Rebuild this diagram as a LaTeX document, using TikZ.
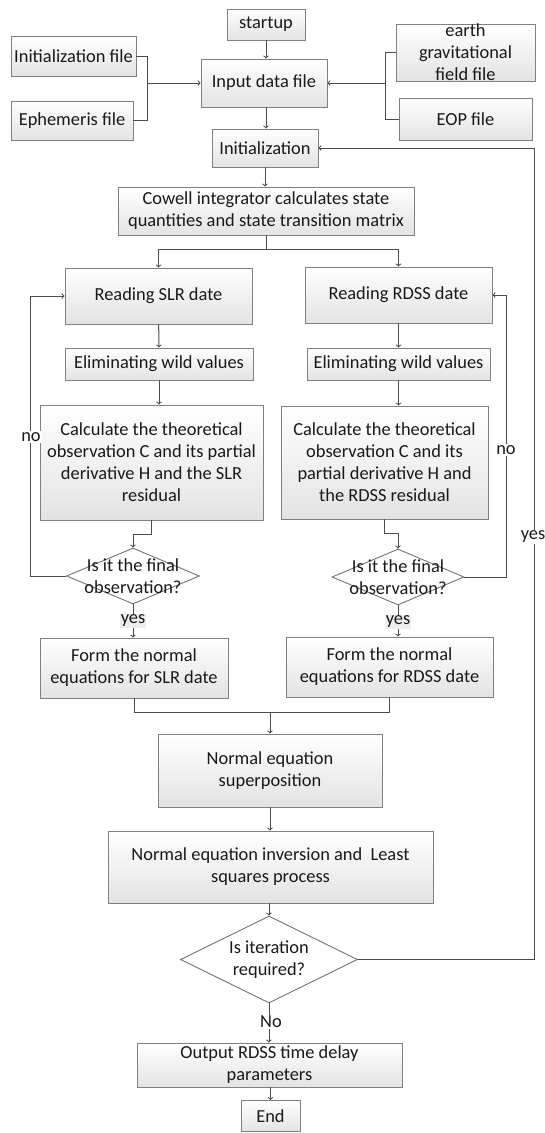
\documentclass[tikz,border=0pt]{standalone}
\usepackage{fontspec}
\setmainfont{Carlito}
\usetikzlibrary{shapes.geometric}

\begin{document}
\begin{tikzpicture}[x=1pt,y=-1pt,>=to,
                    every node/.style={font=\fontsize{18.4}{22}\selectfont,text=black!90,align=center},
                    box/.style={draw=black!50,line width=0.9pt,top color=white,bottom color=black!11,inner sep=0pt},
                    dec/.style={diamond,draw=black!55,line width=0.9pt,fill=white,inner sep=0pt},
                    conn/.style={draw=black!70,line width=1pt},
                    tag/.style={fill=white,inner sep=1pt}]
  \useasboundingbox (0,0) rectangle (545,1133);
  % input stage
  \node[box,minimum width=78pt,minimum height=31pt]  (start) at (266,24.5) {startup};
  \node[box,minimum width=125pt,minimum height=40pt] (initf) at (73.5,56) {Initialization file};
  \node[box,minimum width=122pt,minimum height=39pt] (ephf)  at (72,120.5) {Ephemeris file};
  \node[box,minimum width=126pt,minimum height=48pt] (input) at (264,83) {Input data file};
  \node[box,minimum width=139pt,minimum height=57pt] (earth) at (465.5,52.5) {earth\\gravitational\\field file};
  \node[box,minimum width=133pt,minimum height=42pt] (eop)   at (465.5,119) {EOP file};
  \node[box,minimum width=106pt,minimum height=38pt] (init)  at (265,148) {Initialization};
  \node[box,minimum width=296pt,minimum height=48pt] (cowell) at (266,211) {Cowell integrator calculates state\\quantities and state transition matrix};
  % SLR branch
  \node[box,minimum width=187pt,minimum height=56pt]  (readL) at (158.5,296) {Reading SLR date};
  \node[box,minimum width=188pt,minimum height=32pt]  (elimL) at (159,364) {Eliminating wild values};
  \node[box,minimum width=223pt,minimum height=115pt] (calcL) at (151.5,462.5) {Calculate the theoretical\\observation C and its partial\\derivative H and the SLR\\residual};
  \node[dec,minimum width=133pt,minimum height=56pt,label={center:{Is it the final\\observation?}}] (chkL) at (133,576) {};
  \node[box,minimum width=188pt,minimum height=60pt]  (formL) at (134,668) {Form the normal\\equations for SLR date};
  % RDSS branch
  \node[box,minimum width=187pt,minimum height=56pt]  (readR) at (398.5,295) {Reading RDSS date};
  \node[box,minimum width=183pt,minimum height=32pt]  (elimR) at (398.5,364) {Eliminating wild values};
  \node[box,minimum width=207pt,minimum height=113pt] (calcR) at (384.5,462.5) {Calculate the theoretical\\observation C and its\\partial derivative H and\\the RDSS residual};
  \node[dec,minimum width=132pt,minimum height=56pt,label={center:{Is it the final\\observation?}}] (chkR) at (398,577) {};
  \node[box,minimum width=207pt,minimum height=60pt]  (formR) at (389.5,667) {Form the normal\\equations for RDSS date};
  % solution
  \node[box,minimum width=224pt,minimum height=73pt] (sup)  at (270,770.5) {Normal equation\\superposition};
  \node[box,minimum width=325pt,minimum height=72pt] (inv)  at (270.5,867) {Normal equation inversion and\ \ Least\\squares process};
  \node[dec,minimum width=177pt,minimum height=87pt,label={center:{Is iteration\\required?}}] (iter) at (269,959.5) {};
  \node[box,minimum width=265pt,minimum height=44pt] (out)  at (269.5,1065) {Output RDSS time delay\\parameters};
  \node[box,minimum width=59pt,minimum height=31pt]  (stop) at (270.5,1116) {End};

  \coordinate (jL) at (147,83);
  \coordinate (jR) at (385,83);
  \coordinate (split) at (266,249);
  \coordinate (join) at (270,712);
  \coordinate (fbk) at (534,148);

  \draw[conn] (initf.east) -| (jL); \draw[conn] (ephf.east) -| (jL);
  \draw[conn] (earth.west) -| (jR); \draw[conn] (eop.west) -| (jR);
  \draw[conn,->] (jL) -- (input.west); \draw[conn,->] (jR) -- (input.east);
  \draw[conn,->] (start) -- (start.south |- input.north);
  \draw[conn,->] (input.south -| start) -- (start.south |- init.north);
  \draw[conn,->] (init) -- (init.south |- cowell.north);
  \draw[conn] (cowell.south -| split) -- (split);
  \draw[conn,->] (split) -| (readL.north); \draw[conn,->] (split) -| (readR.north);
  \draw[conn,->] (readL) -- (elimL); \draw[conn,->] (readR) -- (elimR);
  \draw[conn,->] (elimL) -- (elimL.south |- calcL.north);
  \draw[conn,->] (elimR) -- (elimR.south |- calcR.north);
  \draw[conn,->] (calcL.south) -- ++(0,14) -| (chkL.north);
  \draw[conn,->] (calcR.south) -- ++(0,14) -| (chkR.north);
  \draw[conn,->] (chkL.west) -- ++(-36,0) |- (readL.west);
  \draw[conn,->] (chkR.east) -- ++(42,0) |- (readR.east);
  \draw[conn,->] (chkL.south) -- (chkL.south |- formL.north);
  \draw[conn,->] (chkR.south) -- (chkR.south |- formR.north);
  \draw[conn] (formL.south) |- (join) -| (formR.south);
  \draw[conn,->] (join) -- (sup);
  \draw[conn,->] (sup) -- (sup.south |- inv.north);
  \draw[conn,->] (inv.south -| iter) -- (iter.north);
  \draw[conn,->] (iter.south) -- (iter.south |- out.north);
  \draw[conn,->] (out.south -| stop) -- (stop.north);
  \draw[conn,->] (iter.east) -| (fbk) -- (init.east);

  \node[tag] (noL) at (31,437) {no};
  \node[tag] (noR) at (506,450) {no};
  \node[tag] (yesF) at (533,537) {yes};
  \node[tag,fill=black!7] (yesL) at (133,621) {yes};
  \node[tag,fill=black!7] (yesR) at (398,622) {yes};
  \node[tag] (noI) at (271,1022) {No};
\end{tikzpicture}
\end{document}
